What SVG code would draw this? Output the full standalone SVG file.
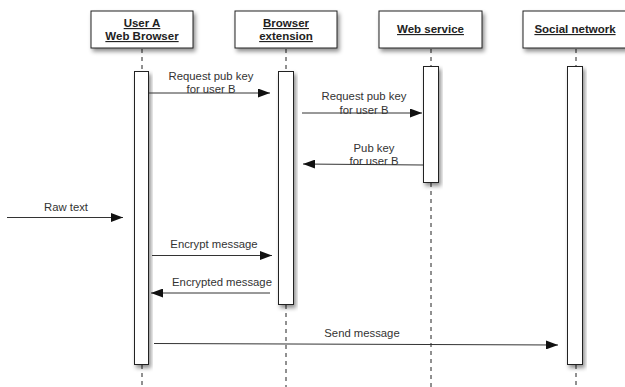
<svg xmlns="http://www.w3.org/2000/svg" width="625" height="387" viewBox="0 0 625 387">
  <defs>
    <filter id="shadow" x="-30%" y="-30%" width="160%" height="160%">
      <feDropShadow dx="2" dy="3" stdDeviation="2" flood-color="#000" flood-opacity="0.45"/>
    </filter>
    <marker id="arrow" viewBox="0 0 12 9" refX="12" refY="4.5" markerWidth="12" markerHeight="9" markerUnits="userSpaceOnUse" orient="auto">
      <path d="M0,0 L12,4.5 L0,9 Z" fill="#111"/>
    </marker>
  </defs>
  <style>
    .head { fill: #fff; stroke: #222; stroke-width: 1; filter: url(#shadow); }
    .bar { fill: #fff; stroke: #222; stroke-width: 1; filter: url(#shadow); }
    .life { stroke: #222; stroke-width: 1; stroke-dasharray: 4 4; fill: none; }
    .title { font-family: "Liberation Sans", Arial, sans-serif; font-size: 11.5px; font-weight: bold; fill: #222; text-anchor: middle; text-decoration: underline; }
    .msg { stroke: #333; stroke-width: 1; fill: none; marker-end: url(#arrow); }
    .label { font-family: "Liberation Sans", Arial, sans-serif; font-size: 11.3px; fill: #333; text-anchor: middle; }
  </style>
  <rect width="625" height="387" fill="#fff"/>

  <!-- lifelines (dashed) -->
  <g id="lifelines">
    <line class="life" x1="142" y1="49" x2="142" y2="71"/>
    <line class="life" x1="142" y1="365" x2="142" y2="387"/>
    <line class="life" x1="286" y1="49" x2="286" y2="71"/>
    <line class="life" x1="286" y1="305" x2="286" y2="387"/>
    <line class="life" x1="431" y1="49" x2="431" y2="66"/>
    <line class="life" x1="431" y1="183" x2="431" y2="387"/>
    <line class="life" x1="576" y1="49" x2="576" y2="66"/>
    <line class="life" x1="576" y1="365" x2="576" y2="387"/>
  </g>

  <g id="user-a">
    <rect class="head" x="91" y="11" width="102" height="37"/>
    <text class="title" x="142" y="27">User A</text>
    <text class="title" x="142" y="40">Web Browser</text>
    <rect class="bar" x="134.5" y="71.5" width="14" height="293"/>
  </g>

  <g id="browser-extension">
    <rect class="head" x="235" y="11" width="102" height="37"/>
    <text class="title" x="286" y="27">Browser</text>
    <text class="title" x="286" y="40">extension</text>
    <rect class="bar" x="278.5" y="71.5" width="15" height="233"/>
  </g>

  <g id="web-service">
    <rect class="head" x="379" y="11" width="103" height="37"/>
    <text class="title" x="430.5" y="33">Web service</text>
    <rect class="bar" x="423.5" y="66.5" width="15" height="116"/>
  </g>

  <g id="social-network">
    <rect class="head" x="523" y="11" width="104" height="37"/>
    <text class="title" x="575" y="33">Social network</text>
    <rect class="bar" x="567.5" y="66.5" width="15" height="298"/>
  </g>

  <!-- messages -->
  <g id="connectors">
    <line class="msg" x1="149" y1="93" x2="270" y2="93"/>
    <text class="label" x="211" y="80">Request pub key</text>
    <text class="label" x="211" y="93">for user B</text>

    <line class="msg" x1="302" y1="113" x2="422" y2="113"/>
    <text class="label" x="364" y="100">Request pub key</text>
    <text class="label" x="364" y="114">for user B</text>

    <line class="msg" x1="423" y1="165" x2="303" y2="164"/>
    <text class="label" x="374" y="152">Pub key</text>
    <text class="label" x="374" y="165">for user B</text>

    <line class="msg" x1="7" y1="217.5" x2="123" y2="217.5"/>
    <text class="label" x="66" y="211">Raw text</text>

    <line class="msg" x1="152" y1="255.5" x2="272" y2="255.5"/>
    <text class="label" x="214" y="248">Encrypt message</text>

    <line class="msg" x1="270" y1="293" x2="151" y2="293"/>
    <text class="label" x="222" y="286">Encrypted message</text>

    <line class="msg" x1="154" y1="343.5" x2="558" y2="345"/>
    <text class="label" x="362" y="337">Send message</text>
  </g>
</svg>
